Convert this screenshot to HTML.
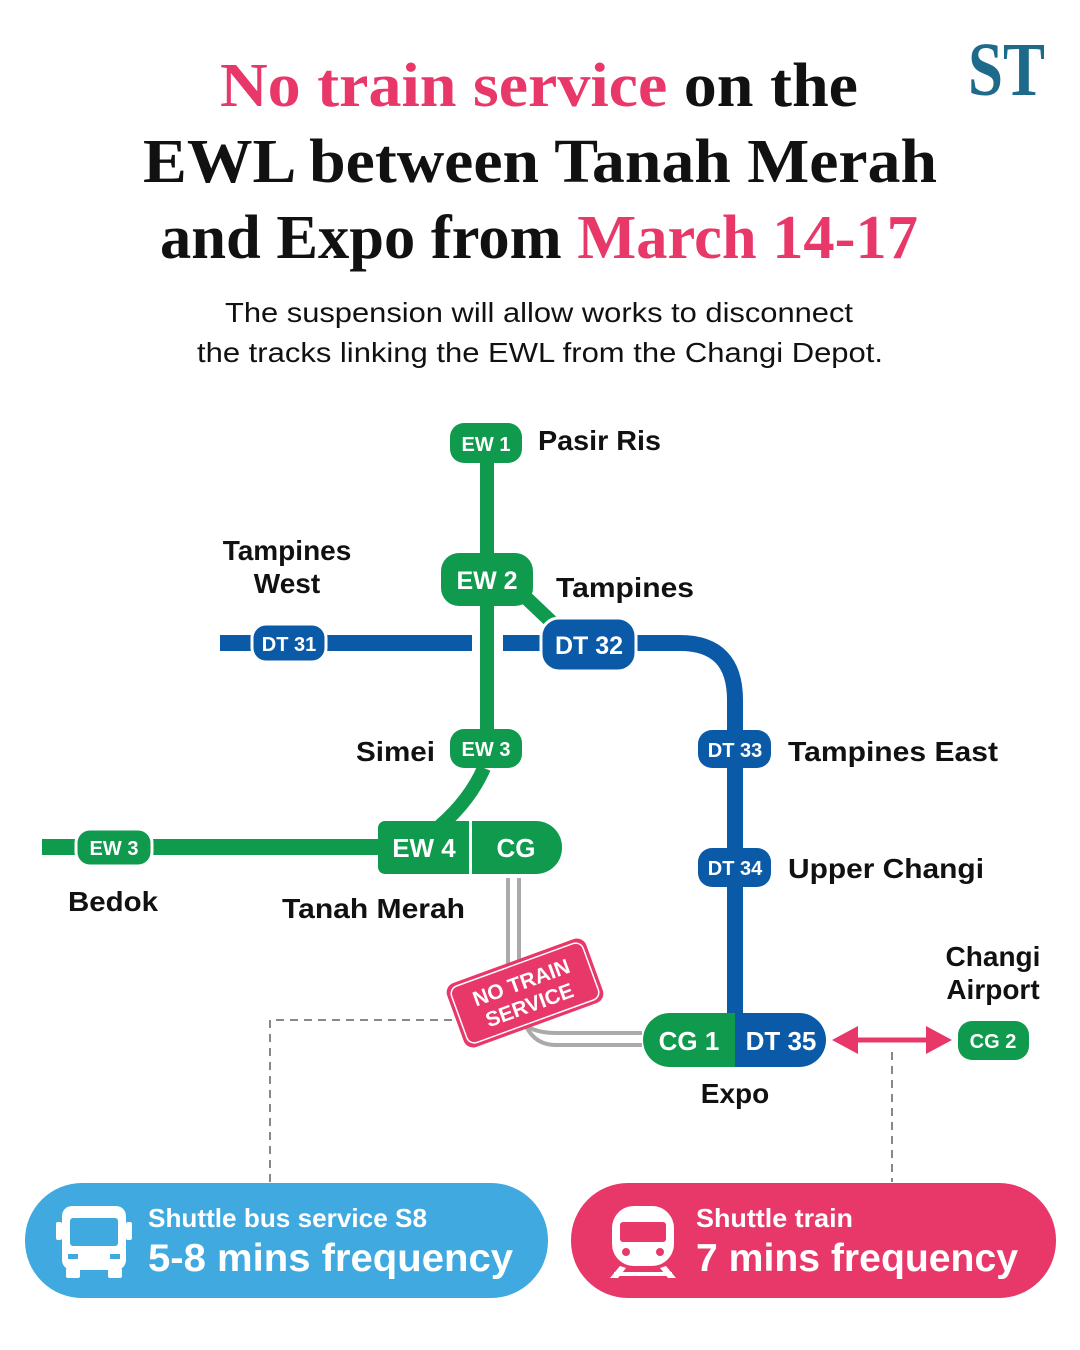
<!DOCTYPE html>
<html><head><meta charset="utf-8"><style>
html,body{margin:0;padding:0;background:#fff}
svg{display:block}
.t{font-family:"Liberation Serif",serif;font-weight:bold;font-size:62px}
.s{font-family:"Liberation Sans",sans-serif;font-size:28px;fill:#111}
.p{font-family:"Liberation Sans",sans-serif;font-weight:bold;fill:#fff;text-anchor:middle}
.l{font-family:"Liberation Sans",sans-serif;font-weight:bold;font-size:28px;fill:#111}
</style></head><body>
<svg width="1080" height="1350" viewBox="0 0 1080 1350">
<text x="968" y="95" textLength="77" lengthAdjust="spacingAndGlyphs" style="font-family:'Liberation Serif',serif;font-weight:bold;font-size:76px;fill:#1d6a8a">ST</text>
<text class="t" x="220" y="106" textLength="638" lengthAdjust="spacingAndGlyphs"><tspan fill="#e8386a">No train service</tspan><tspan fill="#111"> on the</tspan></text>
<text class="t" x="143" y="182" textLength="794" lengthAdjust="spacingAndGlyphs" fill="#111">EWL between Tanah Merah</text>
<text class="t" x="160" y="258" textLength="758" lengthAdjust="spacingAndGlyphs"><tspan fill="#111">and Expo from </tspan><tspan fill="#e8386a">March 14-17</tspan></text>
<text class="s" x="225" y="322" textLength="628" lengthAdjust="spacingAndGlyphs">The suspension will allow works to disconnect</text>
<text class="s" x="197" y="362" textLength="686" lengthAdjust="spacingAndGlyphs">the tracks linking the EWL from the Changi Depot.</text>

<!-- dashed -->
<path d="M270 1182 V1020 H455" stroke="#888" stroke-width="2" stroke-dasharray="8 6" fill="none"/>
<path d="M892 1052 V1182" stroke="#888" stroke-width="2" stroke-dasharray="8 6" fill="none"/>

<!-- gray tracks -->
<path d="M508 878 V985 Q508 1033 556 1033 H642" stroke="#aaa" stroke-width="4" fill="none"/>
<path d="M519 878 V985 Q519 1045 556 1045 H642" stroke="#aaa" stroke-width="4" fill="none"/>

<!-- blue lines -->
<path d="M220 643 H472 M503 643 H560" stroke="#0b5aa8" stroke-width="16" fill="none"/>
<path d="M620 643 H680 Q735 643 735 700 V1015" stroke="#0b5aa8" stroke-width="16" fill="none"/>
<!-- green lines -->
<path d="M487 463 V740" stroke="#109a4e" stroke-width="14" fill="none"/>
<path d="M520 592 L560 630" stroke="#109a4e" stroke-width="14" fill="none"/>
<path d="M484 768 Q470 800 440 826" stroke="#109a4e" stroke-width="14" fill="none"/>
<path d="M42 847 H390" stroke="#109a4e" stroke-width="16" fill="none"/>

<!-- pills -->
<rect x="450" y="423" width="72" height="40" rx="14" fill="#109a4e"/><text class="p" x="486" y="451" font-size="20">EW 1</text>
<rect x="441" y="553" width="92" height="53" rx="18" fill="#109a4e"/><text class="p" x="487" y="589" font-size="25">EW 2</text>
<rect x="252" y="624" width="74" height="38" rx="14" fill="#0b5aa8" stroke="#fff" stroke-width="3"/><text class="p" x="289" y="651" font-size="20">DT 31</text>
<rect x="541" y="618" width="95" height="53" rx="18" fill="#0b5aa8" stroke="#fff" stroke-width="3"/><text class="p" x="589" y="654" font-size="25">DT 32</text>
<rect x="450" y="729" width="72" height="39" rx="14" fill="#109a4e"/><text class="p" x="486" y="756" font-size="20">EW 3</text>
<rect x="698" y="730" width="73" height="38" rx="14" fill="#0b5aa8"/><text class="p" x="735" y="757" font-size="20">DT 33</text>
<rect x="698" y="848" width="73" height="39" rx="14" fill="#0b5aa8"/><text class="p" x="735" y="875" font-size="20">DT 34</text>
<rect x="76" y="829" width="76" height="37" rx="14" fill="#109a4e" stroke="#fff" stroke-width="3"/><text class="p" x="114" y="855" font-size="20">EW 3</text>
<path d="M378 828 a7 7 0 0 1 7 -7 H536 a26 26 0 0 1 26 26 V848 a26 26 0 0 1 -26 26 H385 a7 7 0 0 1 -7 -7Z" fill="#109a4e"/>
<rect x="469" y="821" width="3" height="53" fill="#fff"/>
<text class="p" x="424" y="857" font-size="26">EW 4</text><text class="p" x="516" y="857" font-size="26">CG</text>
<path d="M643 1040 a27 27 0 0 1 27 -27 H735 V1067 H670 a27 27 0 0 1 -27 -27Z" fill="#109a4e"/>
<path d="M735 1013 H799 a27 27 0 0 1 27 27 a27 27 0 0 1 -27 27 H735Z" fill="#0b5aa8"/>
<text class="p" x="689" y="1050" font-size="26">CG 1</text><text class="p" x="781" y="1050" font-size="26">DT 35</text>
<rect x="958" y="1021" width="71" height="39" rx="14" fill="#109a4e"/><text class="p" x="993" y="1048" font-size="20">CG 2</text>
<!-- arrow -->
<path d="M850 1040 H935" stroke="#e8386a" stroke-width="5"/>
<path d="M832 1040 L858 1026 V1054Z M952 1040 L926 1026 V1054Z" fill="#e8386a"/>

<!-- sign -->
<g transform="translate(525,993) rotate(-20)">
<rect x="-74" y="-34" width="148" height="68" rx="10" fill="#e8386a"/>
<rect x="-70" y="-30" width="140" height="60" rx="8" fill="none" stroke="#fff" stroke-width="1.5"/>
<text class="p" x="0" y="-4" font-size="21">NO TRAIN</text>
<text class="p" x="0" y="20" font-size="21">SERVICE</text>
</g>

<!-- labels -->
<text class="l" x="538" y="450" textLength="123" lengthAdjust="spacingAndGlyphs">Pasir Ris</text>
<text class="l" x="287" y="560" text-anchor="middle">Tampines</text>
<text class="l" x="287" y="593" text-anchor="middle">West</text>
<text class="l" x="556" y="597" textLength="138" lengthAdjust="spacingAndGlyphs">Tampines</text>
<text class="l" x="356" y="761" textLength="79" lengthAdjust="spacingAndGlyphs">Simei</text>
<text class="l" x="788" y="761" textLength="210" lengthAdjust="spacingAndGlyphs">Tampines East</text>
<text class="l" x="788" y="878" textLength="196" lengthAdjust="spacingAndGlyphs">Upper Changi</text>
<text class="l" x="68" y="911" textLength="90" lengthAdjust="spacingAndGlyphs">Bedok</text>
<text class="l" x="282" y="918" textLength="183" lengthAdjust="spacingAndGlyphs">Tanah Merah</text>
<text class="l" x="993" y="966" text-anchor="middle">Changi</text>
<text class="l" x="993" y="999" text-anchor="middle">Airport</text>
<text class="l" x="735" y="1103" text-anchor="middle">Expo</text>

<!-- bottom boxes -->
<rect x="25" y="1183" width="523" height="115" rx="57" fill="#3fa9e0"/>
<rect x="571" y="1183" width="485" height="115" rx="57" fill="#e8386a"/>
<!-- bus icon -->
<g fill="#fff">
<rect x="62" y="1206" width="64" height="64" rx="10"/>
<rect x="56" y="1222" width="6" height="18" rx="2"/><rect x="126" y="1222" width="6" height="18" rx="2"/>
<rect x="66" y="1268" width="14" height="10" rx="2"/><rect x="108" y="1268" width="14" height="10" rx="2"/>
</g>
<rect x="70" y="1218" width="48" height="28" rx="3" fill="#3fa9e0"/>
<rect x="68" y="1254" width="10" height="5" fill="#3fa9e0"/><rect x="110" y="1254" width="10" height="5" fill="#3fa9e0"/>
<!-- train icon -->
<g fill="#fff">
<rect x="612" y="1206" width="62" height="60" rx="22"/>
<path d="M620 1266 L610 1278 H618 L626 1268Z M666 1266 L676 1278 H668 L660 1268Z"/>
<rect x="614" y="1272" width="58" height="4"/>
</g>
<rect x="620" y="1222" width="46" height="20" rx="3" fill="#e8386a"/>
<circle cx="626" cy="1252" r="4" fill="#e8386a"/><circle cx="660" cy="1252" r="4" fill="#e8386a"/>
<text x="148" y="1227" textLength="279" lengthAdjust="spacingAndGlyphs" style="font-family:'Liberation Sans',sans-serif;font-weight:bold;font-size:26px;fill:#fff">Shuttle bus service S8</text>
<text x="148" y="1271" textLength="365" lengthAdjust="spacingAndGlyphs" style="font-family:'Liberation Sans',sans-serif;font-weight:bold;font-size:39px;fill:#fff">5-8 mins frequency</text>
<text x="696" y="1227" textLength="157" lengthAdjust="spacingAndGlyphs" style="font-family:'Liberation Sans',sans-serif;font-weight:bold;font-size:26px;fill:#fff">Shuttle train</text>
<text x="696" y="1271" textLength="322" lengthAdjust="spacingAndGlyphs" style="font-family:'Liberation Sans',sans-serif;font-weight:bold;font-size:39px;fill:#fff">7 mins frequency</text>
</svg>
</body></html>
